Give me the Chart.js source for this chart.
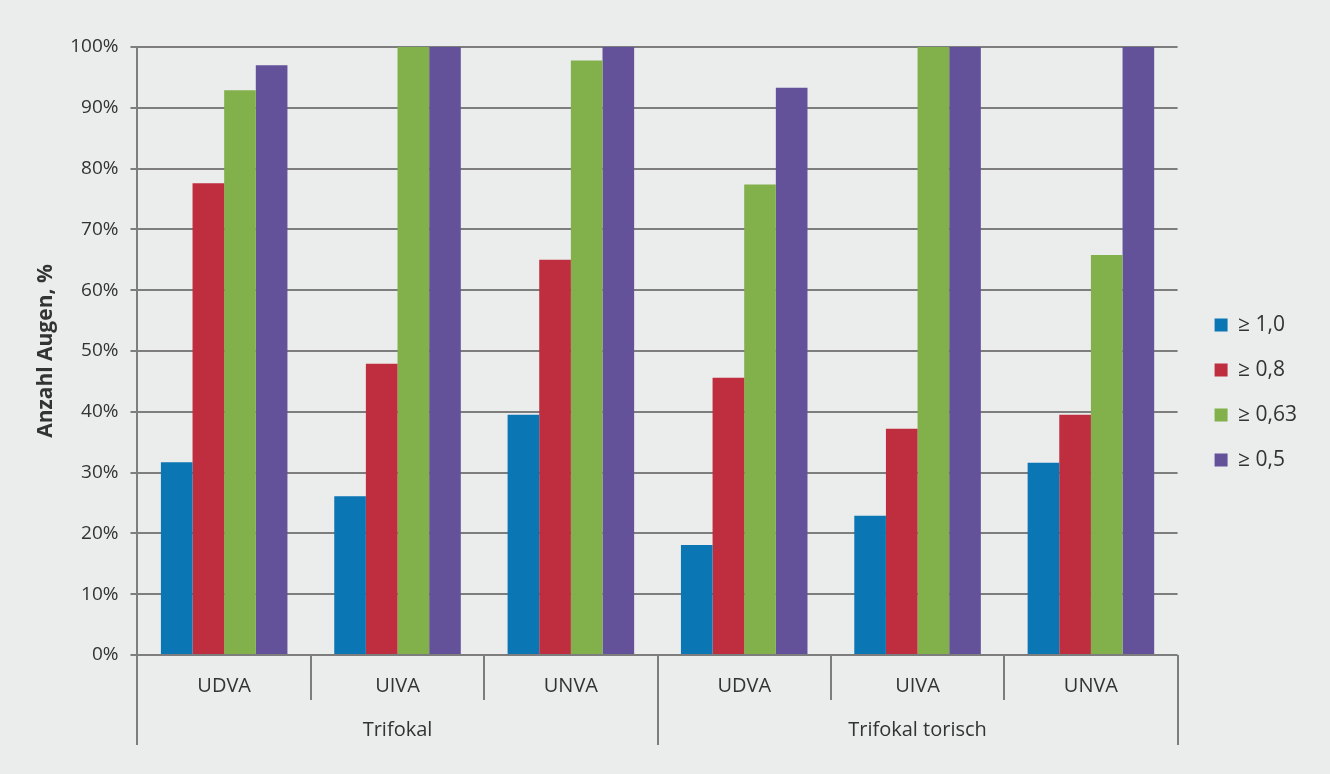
<!DOCTYPE html>
<html>
<head>
<meta charset="utf-8">
<script src="https://cdn.jsdelivr.net/npm/chart.js@4/dist/chart.umd.min.js"></script>
<style>
  html, body { margin: 0; padding: 0; background: #ebecec; }
  #wrap { width: 1330px; height: 774px; }
</style>
</head>
<body>
<div id="wrap"><canvas id="chart"></canvas></div>
<script>
// Kategorien und Gruppen
const categories = ['UDVA', 'UIVA', 'UNVA', 'UDVA', 'UIVA', 'UNVA'];
const groups = ['Trifokal', 'Trifokal torisch'];
const groupSize = 3;

// Serien (Anteil Augen in %)
const seriesLabels = ['≥ 1,0', '≥ 0,8', '≥ 0,63', '≥ 0,5'];
const va10 = [31.7, 26.1, 39.5, 18.1, 22.9, 31.6];
const va08 = [77.6, 47.9, 65.0, 45.6, 37.2, 39.5];
const va063 = [92.9, 100, 97.8, 77.4, 100, 65.8];
const va05 = [97.0, 100, 100, 93.3, 100, 100];
const seriesColors = ['#0b76b4', '#be2e3e', '#82b04b', '#63519a'];

const lineColor = '#7d7d7d';
const textColor = '#333333';
const fontFamily = '"Open Sans", "Noto Sans", sans-serif';

// Hintergrund
const background = {
    id: 'background',
    beforeDraw(chart) {
        const ctx = chart.ctx;
        ctx.save();
        ctx.fillStyle = '#ebecec';
        ctx.fillRect(0, 0, chart.width, chart.height);
        ctx.restore();
    }
};

// Trennlinien und Gruppenbeschriftung unter der x-Achse
const groupAxis = {
    id: 'groupAxis',
    afterDraw(chart) {
        const { ctx, scales: { x } } = chart;
        const base = x.top;
        const n = categories.length;
        ctx.save();
        ctx.strokeStyle = lineColor;
        ctx.lineWidth = 2;
        for (let i = 0; i <= n; i++) {
            let px;
            if (i === 0) px = x.left;
            else if (i === n) px = x.right;
            else px = (x.getPixelForValue(i - 1) + x.getPixelForValue(i)) / 2;
            const outer = i % groupSize === 0;
            ctx.beginPath();
            ctx.moveTo(Math.round(px), base);
            ctx.lineTo(Math.round(px), base + (outer ? 90 : 45));
            ctx.stroke();
        }
        ctx.fillStyle = textColor;
        ctx.font = '20px ' + fontFamily;
        ctx.textAlign = 'center';
        ctx.textBaseline = 'middle';
        groups.forEach((g, gi) => {
            const first = x.getPixelForValue(gi * groupSize);
            const last = x.getPixelForValue(gi * groupSize + groupSize - 1);
            ctx.fillText(g, (first + last) / 2, base + 75);
        });
        ctx.restore();
    }
};

const seriesData = [va10, va08, va063, va05];

new Chart(document.getElementById('chart'), {
    type: 'bar',
    data: {
        labels: categories,
        datasets: seriesData.map((d, i) => ({
            label: seriesLabels[i],
            data: d,
            backgroundColor: seriesColors[i],
            borderWidth: 0,
            barPercentage: 1,
            categoryPercentage: 0.73
        }))
    },
    options: {
        responsive: true,
        maintainAspectRatio: false,
        animation: false,
        layout: {
            padding: { left: 33, right: 23, top: 47, bottom: 36 }
        },
        plugins: {
            legend: {
                position: 'right',
                labels: {
                    color: textColor,
                    font: { family: fontFamily, size: 21 },
                    boxWidth: 13,
                    boxHeight: 13,
                    padding: 24
                }
            },
            tooltip: { enabled: false }
        },
        scales: {
            x: {
                grid: { display: false },
                border: { display: false },
                ticks: {
                    color: textColor,
                    font: { family: fontFamily, size: 20 },
                    padding: 11
                },
                afterFit(scale) { scale.height = 83; }
            },
            y: {
                min: 0,
                max: 100,
                ticks: {
                    stepSize: 10,
                    color: textColor,
                    font: { family: fontFamily, size: 19 },
                    padding: 12,
                    callback: v => v + '%'
                },
                grid: {
                    color: lineColor,
                    lineWidth: 2,
                    tickLength: 7
                },
                border: { color: lineColor, width: 2 },
                title: {
                    display: true,
                    text: 'Anzahl Augen, %',
                    color: textColor,
                    font: { family: fontFamily, size: 21, weight: 'bold' },
                    padding: { top: 0, bottom: 0 }
                }
            },
            // Abstand zwischen Diagramm und Legende
            gap: {
                position: 'right',
                display: true,
                grid: { display: false },
                border: { display: false },
                ticks: { display: false },
                afterFit(scale) { scale.width = 13; }
            }
        }
    },
    plugins: [background, groupAxis]
});
</script>
</body>
</html>
